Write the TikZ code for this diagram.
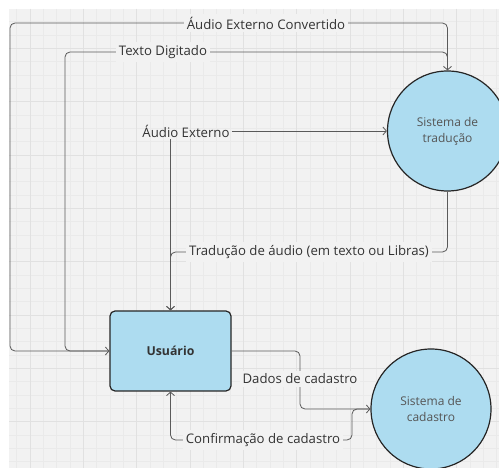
\documentclass[tikz,border=0pt]{standalone}
\usepackage{fontspec}
\setmainfont{Open Sans}
\usetikzlibrary{arrows.meta}
\definecolor{bgc}{HTML}{F2F2F2}
\definecolor{gminor}{HTML}{EAEAEA}
\definecolor{gmajor}{HTML}{E1E1E1}
\definecolor{fillc}{HTML}{ADDCF0}
\definecolor{linec}{HTML}{5A5A5A}
\definecolor{txtc}{HTML}{333333}
\definecolor{ctxt}{HTML}{555555}
\tikzset{
  circ/.style={circle, draw=black!85, line width=1.2pt, fill=fillc, minimum size=120pt, inner sep=0pt, align=center, text=ctxt, font=\fontsize{12}{16}\selectfont},
  box/.style={rectangle, rounded corners=5pt, draw=black!85, line width=1.2pt, fill=fillc, minimum width=121pt, minimum height=80pt, text=txtc, font=\fontsize{12.3}{14}\selectfont\bfseries},
  ent/.style={inner sep=2pt, text=txtc, font=\fontsize{13.2}{15}\selectfont},
  lbl/.style={fill=bgc, inner sep=3pt, text=txtc, font=\fontsize{13.2}{15}\selectfont},
  flow/.style={draw=linec, line width=0.8pt, rounded corners=5pt, -{Straight Barb[length=3.5pt,width=8pt]}}
}
\begin{document}
\begin{tikzpicture}[x=1pt,y=-1pt]
\useasboundingbox (0,0) rectangle (499,468);
\fill[white] (0,0) rectangle (499,468);
\fill[bgc] (9,9) rectangle (499,468);
\begin{scope}
\clip (9,9) rectangle (499,468);
\foreach \i in {0,...,36} { \draw[gminor, line width=0.6pt] (16.67+\i*13.333,9) -- ++(0,459); }
\foreach \i in {0,...,34} { \draw[gminor, line width=0.6pt] (9,21.67+\i*13.333) -- ++(490,0); }
\foreach \i in {0,...,8} { \draw[gmajor, line width=0.8pt] (30+\i*53.333,9) -- ++(0,459); }
\foreach \i in {0,...,7} { \draw[gmajor, line width=0.8pt] (9,48.33+\i*53.333) -- ++(490,0); }
\end{scope}

\node[circ] (trad) at (447.5,131) {Sistema de\\tradução};
\node[circ] (cad) at (431,409) {Sistema de\\cadastro};
\node[box] (usr) at (170.5,351) {Usuário};
\node[ent] (audio) at (186,131) {Áudio Externo};

% Audio Externo Convertido
\draw[flow] (trad.north) -- (447.5,23) -- (10,23) -- (10,351) -- (usr.west);
% Texto Digitado
\draw[flow] (usr.west) -- (65,351) -- (65,52) -- (447.5,52) -- (trad.north);
% Audio externo
\draw[flow] (audio.east) -- (trad.west);
\draw[flow] (audio.south -| usr.north) -- (usr.north);
% Traducao
\draw[flow] (trad.south) -- (447.5,252) -- (170.5,252) -- (usr.north);
% Dados
\draw[flow] (usr.east) -- (300,351) -- (300,409) -- (cad.west);
% Confirmacao
\draw[flow] (cad.west) -- (352,409) -- (352,440) -- (170.5,440) -- (usr.south);

\node[lbl] (l1) at (266,23) {Áudio Externo Convertido};
\node[lbl] (l2) at (163,52) {Texto Digitado};
\node[lbl] (l3) at (309,252) {Tradução de áudio (em texto ou Libras)};
\node[lbl] (l4) at (300,379) {Dados de cadastro};
\node[lbl] (l5) at (263,440) {Confirmação de cadastro};
\end{tikzpicture}
\end{document}
